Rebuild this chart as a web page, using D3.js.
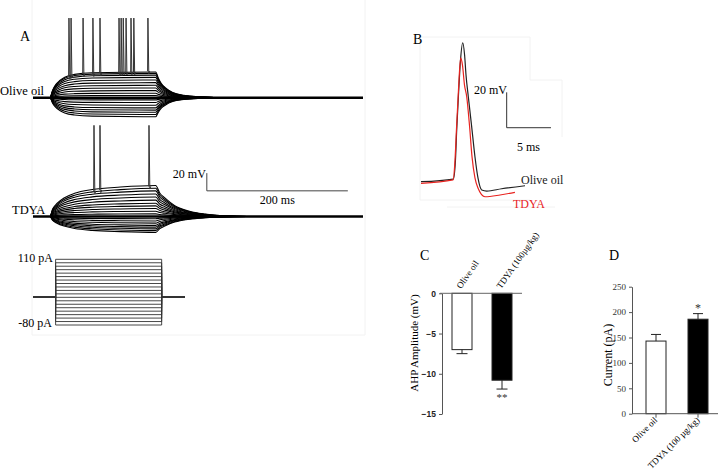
<!doctype html>
<html lang=en>
<head>
<meta charset=utf-8>
<title>Firing and AHP</title>
<script src="https://d3js.org/d3.v7.min.js"></script>
<style>
  body { margin: 0; background: #fff; }
</style>
</head>
<body>
<div id="container"></div>
<script>
// ---- data ----
// current steps (pA) of the protocol
var sweepCurrents = [-80, -70, -60, -50, -40, -30, -20, -10, 0, 10, 20, 30, 40, 50, 60, 70, 80, 90, 100, 110];
// steady state deflection (mV) at the end of each step
var oliveSteady = [-21.5, -19, -16.5, -14, -11.5, -8.5, -5.5, -2.5, 0, 2.5, 5, 8, 11, 14, 17, 20, 23, 25.5, 27.5, 29];
var tdyaSteady  = [-18, -16, -14, -12, -10, -7.5, -5, -2.5, 0, 3, 6, 9, 12, 15, 18.5, 22, 25.5, 29, 32, 35];
// charging time course [ms after onset, fraction of steady state]
var oliveOnset = [[0, 0], [4, 0.3], [8, 0.5], [14, 0.67], [21, 0.8], [35, 0.91], [60, 0.97], [150, 1]];
var tdyaOnset  = [[0, 0], [4, 0.25], [10, 0.42], [20, 0.6], [35, 0.75], [60, 0.87], [100, 0.95], [150, 1]];
// decay after the step [ms after offset, fraction]
var oliveOffset = [[0, 1], [4, 0.75], [8, 0.55], [14, 0.38], [24, 0.2], [40, 0.09], [65, 0.03], [100, 0]];
var tdyaOffset  = [[0, 1], [6, 0.75], [13, 0.6], [27, 0.35], [48, 0.17], [70, 0.08], [100, 0.02], [130, 0]];
// spikes: [time ms, base mV]
var oliveSpikes = [[51, 24], [54, 25], [71, 27], [85, 27], [95, 28], [122, 28], [125, 28], [128, 29], [132, 29], [139, 29], [143, 29], [163, 30]];
var tdyaSpikes  = [[86.5, 29], [95, 30], [164.5, 34]];
var olivePeak = 90, tdyaPeak = 103;

// single action potentials [ms, mV]
var apOlive = [[0, -60], [3.65, -58.5], [3.89, -47.7], [4.03, -30.8], [4.23, -11], [4.46, 8.7], [4.71, 18.5], [4.92, 11.6], [5.08, 0.3],
  [5.34, -12], [5.7, -28], [6.09, -45.9], [6.43, -57.9], [6.85, -64.7], [7.42, -65.3], [9.1, -64], [11.74, -62.3]];
var apTdya = [[0, -60.9], [3.61, -59], [3.84, -47.7], [4.0, -30.8], [4.23, -8.2], [4.48, 10], [4.68, 5.9], [4.91, -5.4], [5.16, -12],
  [5.47, -28], [5.76, -46], [6.09, -57.9], [6.43, -63.6], [7.22, -68.5], [8.92, -67.5], [10.6, -66]];

// bar charts
var groupsC = ["Olive oil", "TDYA (100µg/kg)"];
var ahpMean = [-7, -10.8];
var ahpSem = [0.5, 1.1];
var ahpTicks = [0, -5, -10, -15];
var groupsD = ["Olive oil", "TDYA (100 µg/kg)"];
var rheoMean = [143, 186];
var rheoSem = [13, 11];
var rheoTicks = [0, 50, 100, 150, 200, 250];

var serif = "Liberation Serif, Times New Roman, serif";
var W = 720, H = 473;
var svg = d3.select("#container").append("svg")
    .attr("width", W).attr("height", H)
    .attr("font-family", serif)
    .style("background-color", "#fff");

// faint borders of the pasted panels
var faint = [[32, 0, 32, 335], [32, 335, 365, 335], [365, 0, 365, 335],
             [420, 37, 420, 200], [420, 37, 530, 37], [530, 37, 530, 80], [530, 80, 562, 80], [562, 80, 562, 137],
             [420, 200, 530, 200], [447, 207, 555, 207]];
svg.selectAll("line.faint").data(faint).enter().append("line")
    .attr("class", "faint")
    .attr("x1", d => d[0]).attr("y1", d => d[1]).attr("x2", d => d[2]).attr("y2", d => d[3])
    .attr("stroke", "#f2f2f2").attr("stroke-width", 1);

// ===== panel A =====
var tOn = 24, tOff = 174, tEnd = 468;
var xA = d3.scaleLinear().domain([0, tEnd]).range([33, 363]);
var mvPx = 0.885;
function yScaleAt(base) { return d3.scaleLinear().domain([0, 20]).range([base, base - 20 * mvPx]); }
var yOlive = yScaleAt(97.7);
var yTdya = yScaleAt(216.5);

function sweepPoints(dv, onset, offset) {
  var pts = [[0, 0], [tOn, 0]];
  onset.forEach(function(p) { if (p[0] > 0 && tOn + p[0] < tOff) pts.push([tOn + p[0], dv * p[1]]); });
  offset.forEach(function(p) { pts.push([tOff + p[0], dv * p[1]]); });
  pts.push([tEnd, 0]);
  return pts;
}

function drawFamily(steady, onset, offset, yS, spikes, peak) {
  var g = svg.append("g");
  var line = d3.line().x(d => xA(d[0])).y(d => yS(d[1])).curve(d3.curveMonotoneX);
  g.selectAll("path.sweep").data(steady).enter().append("path")
      .attr("class", "sweep")
      .attr("d", d => line(sweepPoints(d, onset, offset)))
      .attr("fill", "none").attr("stroke", "#000").attr("stroke-width", 1.1);
  var spikeLine = d3.line().x(d => xA(d[0])).y(d => yS(d[1]));
  g.selectAll("path.spike").data(spikes).enter().append("path")
      .attr("class", "spike")
      .attr("d", d => spikeLine([[d[0] - 0.5, d[1]], [d[0], peak], [d[0] + 1.2, d[1] - 3], [d[0] + 2.5, d[1]]]))
      .attr("fill", "none").attr("stroke", "#333").attr("stroke-width", 1);
  // thick resting baseline
  g.append("line").attr("x1", xA(0)).attr("x2", xA(tEnd)).attr("y1", yS(0)).attr("y2", yS(0))
      .attr("stroke", "#000").attr("stroke-width", 2.4);
}
drawFamily(oliveSteady, oliveOnset, oliveOffset, yOlive, oliveSpikes, olivePeak);
drawFamily(tdyaSteady, tdyaOnset, tdyaOffset, yTdya, tdyaSpikes, tdyaPeak);

svg.append("text").attr("x", 20).attr("y", 41).attr("font-size", 14).text("A");
svg.append("text").attr("x", 0).attr("y", 95).attr("font-size", 12.5).text("Olive oil");
svg.append("text").attr("x", 12).attr("y", 214).attr("font-size", 12.5).text("TDYA");

// scale bar A
var sbT = 246.5, sbV = 29;
svg.append("path")
    .attr("d", d3.line()([[xA(sbT), yTdya(sbV + 20)], [xA(sbT), yTdya(sbV)], [xA(sbT + 200), yTdya(sbV)]]))
    .attr("fill", "none").attr("stroke", "#444").attr("stroke-width", 1);
svg.append("text").attr("x", xA(sbT) - 1).attr("y", 178).attr("text-anchor", "end").attr("font-size", 12).text("20 mV");
svg.append("text").attr("x", xA(sbT + 100)).attr("y", 204).attr("text-anchor", "middle").attr("font-size", 12).text("200 ms");

// current protocol
var xI = d3.scaleLinear().domain([0, 215]).range([33, 185]);
var yI = d3.scaleLinear().domain([-80, 110]).range([325, 259.3]);
var iOn = 32, iOff = 182;
var stepLine = d3.line().x(d => xI(d[0])).y(d => yI(d[1]));
svg.append("g").selectAll("path").data(sweepCurrents).enter().append("path")
    .attr("d", d => stepLine([[0, 0], [iOn, 0], [iOn, d], [iOff, d], [iOff, 0], [215, 0]]))
    .attr("fill", "none").attr("stroke", "#333").attr("stroke-width", 0.9);
svg.append("text").attr("x", 53).attr("y", 262).attr("text-anchor", "end").attr("font-size", 12).text("110 pA");
svg.append("text").attr("x", 52).attr("y", 327).attr("text-anchor", "end").attr("font-size", 12).text("-80 pA");

// ===== panel B =====
var xB = d3.scaleLinear().domain([0, 12]).range([421, 421 + 12 * 8.86]);
var yB = d3.scaleLinear().domain([-60, 20]).range([181.7, 181.7 - 80 * 1.77]);
var apLine = d3.line().x(d => xB(d[0])).y(d => yB(d[1])).curve(d3.curveMonotoneX);
svg.append("path").attr("d", apLine(apOlive)).attr("fill", "none").attr("stroke", "#222").attr("stroke-width", 1.2);
svg.append("path").attr("d", apLine(apTdya)).attr("fill", "none").attr("stroke", "#e8231f").attr("stroke-width", 1.2);
var sbBt = 9.67, sbBv = -29.5;
svg.append("path")
    .attr("d", d3.line()([[xB(sbBt), yB(sbBv + 20)], [xB(sbBt), yB(sbBv)], [xB(sbBt + 5), yB(sbBv)]]))
    .attr("fill", "none").attr("stroke", "#333").attr("stroke-width", 1);
svg.append("text").attr("x", 413).attr("y", 44).attr("font-size", 14).text("B");
svg.append("text").attr("x", 474).attr("y", 94).attr("font-size", 12).text("20 mV");
svg.append("text").attr("x", 517).attr("y", 151).attr("font-size", 12).text("5 ms");
svg.append("text").attr("x", 521).attr("y", 184).attr("font-size", 12).attr("fill", "#222").text("Olive oil");
svg.append("text").attr("x", 513).attr("y", 208).attr("font-size", 12).attr("fill", "#e8231f").text("TDYA");

// ===== panel C =====
var xC = d3.scaleBand().domain(groupsC).range([442, 522]).paddingInner(0.5).paddingOuter(0.25);
var yC = d3.scaleLinear().domain([-15, 0]).range([414, 293.3]);
var gC = svg.append("g");
gC.append("g").attr("transform", "translate(442,0)")
    .call(d3.axisLeft(yC).tickValues(ahpTicks).tickSize(3).tickSizeOuter(0))
    .call(g => g.select(".domain").attr("stroke", "#555"))
    .call(g => g.selectAll(".tick line").attr("stroke", "#555"))
    .call(g => g.selectAll(".tick text").attr("font-family", "Liberation Sans, Arial, sans-serif")
        .attr("font-weight", "bold").attr("font-size", 8.5).attr("fill", "#222"));
gC.selectAll("rect").data(groupsC).enter().append("rect")
    .attr("x", d => xC(d)).attr("width", xC.bandwidth())
    .attr("y", yC(0)).attr("height", (d, i) => yC(ahpMean[i]) - yC(0))
    .attr("fill", (d, i) => i ? "#000" : "#fff").attr("stroke", "#222").attr("stroke-width", 1);
gC.selectAll("path.err").data(groupsC).enter().append("path")
    .attr("class", "err")
    .attr("d", (d, i) => {
      var cx = xC(d) + xC.bandwidth() / 2, y0 = yC(ahpMean[i]), y1 = yC(ahpMean[i] - ahpSem[i]);
      return "M" + cx + "," + y0 + "V" + y1 + "M" + (cx - 5.5) + "," + y1 + "H" + (cx + 5.5);
    })
    .attr("stroke", "#222").attr("fill", "none");
gC.append("line").attr("x1", 440).attr("x2", 522).attr("y1", yC(0)).attr("y2", yC(0)).attr("stroke", "#666");
gC.selectAll("text.xl").data(groupsC).enter().append("text")
    .attr("class", "xl")
    .attr("transform", d => "translate(" + (xC(d) + xC.bandwidth() / 2 - 1) + "," + (yC(0) - 4) + ") rotate(-55)")
    .attr("font-size", 9).text(d => d);
gC.append("text").attr("x", xC(groupsC[1]) + xC.bandwidth() / 2).attr("y", yC(ahpMean[1] - ahpSem[1]) + 12)
    .attr("text-anchor", "middle").attr("font-size", 11).attr("fill", "#333").text("**");
gC.append("text").attr("transform", "translate(418,343) rotate(-90)").attr("text-anchor", "middle")
    .attr("font-size", 11).text("AHP Amplitude (mV)");
svg.append("text").attr("x", 420).attr("y", 260).attr("font-size", 14).text("C");

// ===== panel D =====
var xD = d3.scaleBand().domain(groupsD).range([632, 722]).paddingInner(22 / 42).paddingOuter(1 / 3);
var yD = d3.scaleLinear().domain([0, 250]).range([413.7, 286.7]);
var gD = svg.append("g");
gD.append("g").attr("transform", "translate(632,0)")
    .call(d3.axisLeft(yD).tickValues(rheoTicks).tickSize(3).tickSizeOuter(0))
    .call(g => g.select(".domain").attr("stroke", "#555"))
    .call(g => g.selectAll(".tick line").attr("stroke", "#555"))
    .call(g => g.selectAll(".tick text").attr("font-family", serif)
        .attr("font-size", 9).attr("fill", "#333"));
gD.selectAll("rect").data(groupsD).enter().append("rect")
    .attr("x", d => xD(d)).attr("width", xD.bandwidth())
    .attr("y", (d, i) => yD(rheoMean[i])).attr("height", (d, i) => yD(0) - yD(rheoMean[i]))
    .attr("fill", (d, i) => i ? "#000" : "#fff").attr("stroke", "#222").attr("stroke-width", 1);
gD.selectAll("path.err").data(groupsD).enter().append("path")
    .attr("class", "err")
    .attr("d", (d, i) => {
      var cx = xD(d) + xD.bandwidth() / 2, y0 = yD(rheoMean[i]), y1 = yD(rheoMean[i] + rheoSem[i]);
      return "M" + cx + "," + y0 + "V" + y1 + "M" + (cx - 5) + "," + y1 + "H" + (cx + 5);
    })
    .attr("stroke", "#222").attr("fill", "none");
gD.append("line").attr("x1", 632).attr("x2", 718).attr("y1", yD(0)).attr("y2", yD(0)).attr("stroke", "#555");
gD.selectAll("line.xt").data(groupsD).enter().append("line")
    .attr("class", "xt")
    .attr("x1", d => xD(d) + xD.bandwidth() / 2).attr("x2", d => xD(d) + xD.bandwidth() / 2)
    .attr("y1", yD(0)).attr("y2", yD(0) + 4).attr("stroke", "#555");
gD.selectAll("text.xl").data(groupsD).enter().append("text")
    .attr("class", "xl")
    .attr("transform", d => "translate(" + (xD(d) + xD.bandwidth() / 2 + 2) + "," + (yD(0) + 7) + ") rotate(-45)")
    .attr("text-anchor", "end").attr("font-size", 9).text(d => d);
gD.append("text").attr("x", xD(groupsD[1]) + xD.bandwidth() / 2).attr("y", yD(rheoMean[1] + rheoSem[1]) - 2)
    .attr("text-anchor", "middle").attr("font-size", 12).attr("fill", "#333").text("*");
gD.append("text").attr("transform", "translate(612,355) rotate(-90)").attr("text-anchor", "middle")
    .attr("font-size", 12).text("Current (pA)");
svg.append("text").attr("x", 609).attr("y", 260).attr("font-size", 14).text("D");
</script>
</body>
</html>
